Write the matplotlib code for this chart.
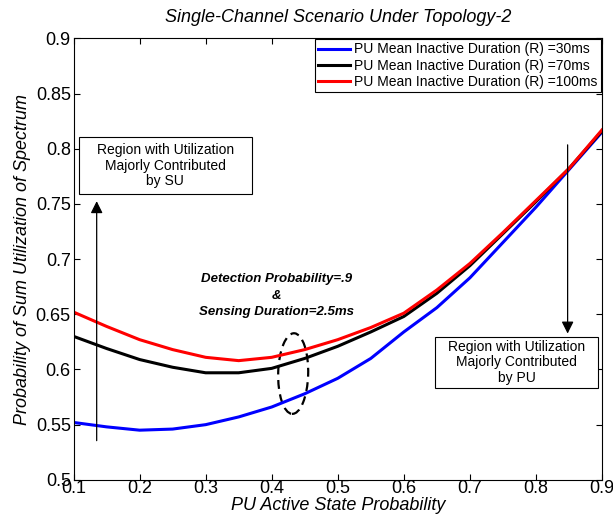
import matplotlib
matplotlib.use('Agg')
import matplotlib.pyplot as plt
from matplotlib.patches import Ellipse, Rectangle

plt.rcParams['font.family'] = ['Liberation Sans', 'DejaVu Sans']

# PU active state probability
p_active = [0.10, 0.15, 0.20, 0.25, 0.30, 0.35, 0.40, 0.45, 0.50,
            0.55, 0.60, 0.65, 0.70, 0.75, 0.80, 0.85, 0.90]

# sum utilization
util_r30 = [0.552, 0.548, 0.545, 0.546, 0.550, 0.557, 0.566, 0.578, 0.592,
            0.610, 0.634, 0.656, 0.683, 0.715, 0.747, 0.781, 0.815]
util_r70 = [0.630, 0.619, 0.609, 0.602, 0.597, 0.597, 0.601, 0.610, 0.621,
            0.634, 0.648, 0.669, 0.694, 0.723, 0.752, 0.782, 0.816]
util_r100 = [0.652, 0.639, 0.627, 0.618, 0.611, 0.608, 0.611, 0.618, 0.627,
             0.638, 0.651, 0.672, 0.696, 0.724, 0.753, 0.782, 0.817]

labels = ['PU Mean Inactive Duration (R) =30ms',
          'PU Mean Inactive Duration (R) =70ms',
          'PU Mean Inactive Duration (R) =100ms']

fig = plt.figure(figsize=(6.13, 5.25), dpi=100)
ax = fig.add_axes([0.120, 0.086, 0.862, 0.841])

ax.plot(p_active, util_r30, color='blue', lw=2.2, label=labels[0])
ax.plot(p_active, util_r70, color='black', lw=2.2, label=labels[1])
ax.plot(p_active, util_r100, color='red', lw=2.2, label=labels[2])

ax.set_xlim(0.1, 0.9)
ax.set_ylim(0.5, 0.9)
ax.set_xticks([0.1, 0.2, 0.3, 0.4, 0.5, 0.6, 0.7, 0.8, 0.9])
ax.set_xticklabels(['0.1', '0.2', '0.3', '0.4', '0.5', '0.6', '0.7', '0.8', '0.9'])
ax.set_yticks([0.5, 0.55, 0.6, 0.65, 0.7, 0.75, 0.8, 0.85, 0.9])
ax.set_yticklabels(['0.5', '0.55', '0.6', '0.65', '0.7', '0.75', '0.8', '0.85', '0.9'])
ax.tick_params(direction='in', length=4, labelsize=13, top=True, right=True,
               labeltop=False, labelright=False, pad=2)
ax.tick_params(axis='x', pad=0)

ax.set_title('Single-Channel Scenario Under Topology-2', fontsize=13, style='italic', pad=12)
ax.set_xlabel('PU Active State Probability', fontsize=13, style='italic', labelpad=0)
ax.set_ylabel('Probability of Sum Utilization of Spectrum', fontsize=13, style='italic', labelpad=3)

leg = ax.legend(loc='upper right', fontsize=10, handlelength=2.3, borderpad=0.25,
                labelspacing=0.15, handletextpad=0.3, borderaxespad=0.05,
                fancybox=False, framealpha=1)
leg.get_frame().set_edgecolor('black')
leg.get_frame().set_linewidth(0.8)

# arrows
ax.annotate('', xy=(0.135, 0.755), xytext=(0.135, 0.533),
            arrowprops=dict(arrowstyle='-|>', color='black', lw=0.9, mutation_scale=18))
ax.annotate('', xy=(0.848, 0.630), xytext=(0.848, 0.806),
            arrowprops=dict(arrowstyle='-|>', color='black', lw=0.9, mutation_scale=18))

# text boxes
ax.add_patch(Rectangle((0.1085, 0.759), 0.261, 0.0513, fc='white', ec='black', lw=0.8, zorder=4))
ax.text(0.239, 0.7845, 'Region with Utilization\nMajorly Contributed\nby SU', ha='center', va='center',
        fontsize=10, linespacing=1.15, zorder=5)
ax.add_patch(Rectangle((0.6471, 0.5836), 0.2472, 0.0456, fc='white', ec='black', lw=0.8, zorder=4))
ax.text(0.7707, 0.6064, 'Region with Utilization\nMajorly Contributed\nby PU', ha='center', va='center',
        fontsize=10, linespacing=1.15, zorder=5)

ax.text(0.407, 0.667, 'Detection Probability=.9\n&\nSensing Duration=2.5ms', ha='center', va='center',
        fontsize=9.5, style='italic', weight='bold', linespacing=1.45)

ax.add_patch(Ellipse((0.4325, 0.5963), 0.0454, 0.0731, angle=-3, fill=False,
                     ec='black', lw=1.6, ls=(0, (4, 2.5))))

fig.savefig('out.png', dpi=100)
